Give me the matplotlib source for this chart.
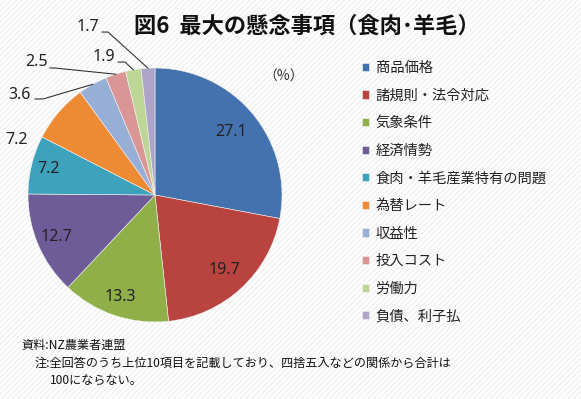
import numpy as np
import matplotlib
matplotlib.use("Agg")
import matplotlib.pyplot as plt
from matplotlib.patches import Rectangle

plt.rcParams['font.family'] = ['Noto Sans CJK JP', 'DejaVu Sans']

categories = ["商品価格", "諸規則・法令対応", "気象条件", "経済情勢", "食肉・羊毛産業特有の問題",
              "為替レート", "収益性", "投入コスト", "労働力", "負債、利子払"]
values = [27.1, 19.7, 13.3, 12.7, 7.2, 7.2, 3.6, 2.5, 1.9, 1.7]
value_labels = ["27.1", "19.7", "13.3", "12.7", "7.2", "7.2", "3.6", "2.5", "1.9", "1.7"]
colors = ['#4472AE', '#B8433F', '#8FB048', '#6E5C98', '#3DA3BD',
          '#EF8A34', '#97AED6', '#D99694', '#BDD595', '#AEA4C8']

W, H = 581, 399
fig = plt.figure(figsize=(W / 100, H / 100), dpi=100)
fig.patch.set_facecolor('white')
bg = Rectangle((0, 0), 1, 1, transform=fig.transFigure, facecolor='white',
               edgecolor='#f0f0f0', hatch='//////', linewidth=0, zorder=-10)
fig.patches.append(bg)

cx, cy, r = 155, 195, 127
ax = fig.add_axes([(cx - r) / W, (H - cy - r) / H, 2 * r / W, 2 * r / H])
ax.set_facecolor('none')
wedges, _ = ax.pie(values, colors=colors, startangle=90, counterclock=False,
                   radius=1, wedgeprops=dict(linewidth=0.4, edgecolor='#f4f4f4'))
ax.set_xlim(-1, 1)
ax.set_ylim(-1, 1)
ax.set_aspect('equal')
ax.axis('off')

num_font = dict(family=['Noto Sans', 'DejaVu Sans'], fontsize=11.5, color='#222222')

# inner labels
inner_dist = [0.78, 0.80, 0.85, 0.84, 0.86]
for i, d in enumerate(inner_dist):
    w = wedges[i]
    ang = np.deg2rad((w.theta1 + w.theta2) / 2)
    ax.text(d * np.cos(ang), d * np.sin(ang), value_labels[i], ha='center', va='center',
            **num_font)

# outer labels (text position, leader line points)
outer = {
    5: ((-1.087, 0.43), None),
    6: ((-1.063, 0.787), [(-0.945, 0.756), (-0.882, 0.756)]),
    7: ((-0.929, 1.047), [(-0.827, 1.000), (-0.790, 1.000)]),
    8: ((-0.402, 1.087), [(-0.291, 1.047), (-0.236, 1.047)]),
    9: ((-0.528, 1.323), [(-0.417, 1.283), (-0.370, 1.283)]),
}
for i, (tp, pts) in outer.items():
    ax.text(tp[0], tp[1], value_labels[i], ha='center', va='center', clip_on=False, **num_font)
    if pts:
        w = wedges[i]
        ang = np.deg2rad((w.theta1 + w.theta2) / 2)
        ex, ey = np.cos(ang), np.sin(ang)
        xs = [p[0] for p in pts] + [ex]
        ys = [p[1] for p in pts] + [ey]
        ax.plot(xs, ys, color='#333333', linewidth=0.8, clip_on=False)

# title
fig.text(307 / W, 1 - 26 / H, "図6  最大の懸念事項（食肉･羊毛）", ha='center', va='center',
         fontsize=16, fontweight='bold', color='#111111')
fig.text(284 / W, 1 - 77 / H, "（%）", ha='center', va='center', fontsize=10, color='#333333')

leg = fig.legend(wedges, categories, loc='upper left', bbox_to_anchor=(362 / W, 1 - 61 / H),
                 frameon=False, fontsize=10.3, handlelength=0.5, handleheight=0.5,
                 handletextpad=0.45, labelspacing=0.95, borderpad=0, borderaxespad=0)
for t in leg.get_texts():
    t.set_color('#222222')

foot = dict(fontsize=8.7, color='#111111', va='center', ha='left')
fig.text(22 / W, 1 - 345 / H, "資料:NZ農業者連盟", **foot)
fig.text(35 / W, 1 - 363 / H, "注:全回答のうち上位10項目を記載しており、四捨五入などの関係から合計は", **foot)
fig.text(50 / W, 1 - 381 / H, "100にならない。", **foot)

fig.savefig("out.png", dpi=100)
